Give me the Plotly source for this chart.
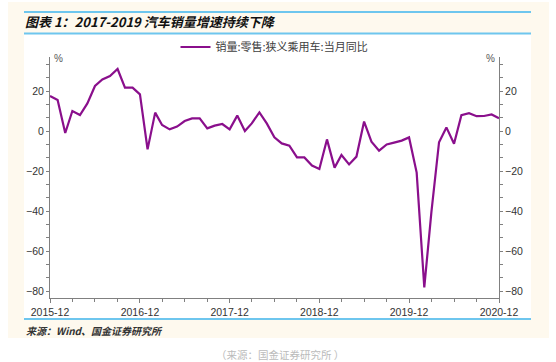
import plotly.graph_objects as go
import pandas as pd

# ---- data ----
months = pd.date_range("2015-12-01", "2020-12-01", freq="MS")
yoy = [17.5, 15.5, -1.0, 10.0, 8.0, 13.8, 22.5, 25.8, 27.5, 31.0, 21.7, 21.7,
       18.3, -9.2, 9.2, 3.0, 0.8, 2.2, 5.0, 6.3, 6.3, 1.3, 2.7, 3.5,
       0.8, 7.7, 0.0, 3.8, 9.3, 3.8, -3.2, -6.2, -7.3, -13.2, -13.2, -17.3,
       -19.0, -4.2, -18.3, -12.0, -16.7, -12.8, 4.7, -5.3, -9.8, -6.7, -5.8, -4.8,
       -3.2, -20.8, -78.2, -40.4, -5.6, 1.8, -6.4, 7.9, 8.9, 7.4, 7.5, 8.3, 6.4]
series_name = "销量:零售:狭义乘用车:当月同比"
title_text = "图表 1：2017-2019 汽车销量增速持续下降"
source_text = "来源：Wind、国金证券研究所"
caption_text = "（来源：国金证券研究所 ）"
y_ticks = [-80, -60, -40, -20, 0, 20]
x_ticks = pd.date_range("2015-12-01", "2020-12-01", freq="12MS")

W, H = 556, 362
L, R, T, B = 50, 499, 57, 298


def px(x):
    return (x - L) / (R - L)


def py(y):
    return (B - y) / (B - T)


fig = go.Figure()
fig.add_trace(go.Scatter(x=months, y=yoy, mode="lines", name=series_name,
                         line=dict(color="#8A0F8C", width=2.2)))
fig.add_trace(go.Scatter(x=months, y=yoy, mode="lines", yaxis="y2", showlegend=False,
                         line=dict(color="rgba(0,0,0,0)", width=0), hoverinfo="skip"))

yr = [-83.5, 37]
axis_common = dict(
    range=yr, tickvals=y_ticks, ticks="outside", ticklen=3, tickwidth=1,
    tickcolor="#808080", showline=True, linecolor="#808080", linewidth=1,
    showgrid=False, zeroline=False,
    tickfont=dict(family="Liberation Sans, Arial", size=10.5, color="#333333"),
    minor=dict(ticks="outside", ticklen=3, tickcolor="#808080", tick0=0, dtick=20 / 3, showgrid=False),
)

fig.update_layout(
    width=W, height=H,
    margin=dict(l=L, r=W - R, t=T, b=H - B),
    paper_bgcolor="white", plot_bgcolor="rgba(0,0,0,0)",
    showlegend=True,
    legend=dict(x=0.5, xanchor="center", y=py(47), yanchor="middle", orientation="h",
                bgcolor="rgba(0,0,0,0)", font=dict(family="Noto Sans CJK SC", size=11, color="#404040"),
                itemwidth=30),
    title=dict(text=title_text, xref="container", x=25 / W, xanchor="left",
               yref="container", y=1 - 22 / H, yanchor="middle",
               font=dict(family="Noto Sans CJK SC", size=13, color="#111111", weight="bold", style="italic")),
    xaxis=dict(
        type="date", range=[months[0], months[-1]], tickvals=list(x_ticks), tickformat="%Y-%m",
        ticks="outside", ticklen=4, tickcolor="#808080", showline=True, linecolor="#808080",
        linewidth=1, showgrid=False, zeroline=False,
        tickfont=dict(family="Liberation Sans, Arial", size=10.5, color="#333333"),
        minor=dict(ticks="outside", ticklen=3, tickcolor="#808080", tick0="2015-12-01", dtick="M3"),
    ),
    yaxis=dict(side="left", **axis_common),
    yaxis2=dict(side="right", overlaying="y", **axis_common),
)

shapes = [
    dict(type="rect", xref="paper", yref="paper", x0=px(8), x1=px(549), y0=py(2), y1=py(338),
         fillcolor="#FEF9EE", line=dict(width=0), layer="below"),
    dict(type="rect", xref="paper", yref="paper", x0=px(24), x1=px(531), y0=py(34), y1=py(319),
         fillcolor="white", line=dict(width=0), layer="below"),
]
for yy in (12, 33.5, 319):
    shapes.append(dict(type="line", xref="paper", yref="paper", x0=px(24), x1=px(531),
                       y0=py(yy), y1=py(yy), line=dict(color="#6EC6EE", width=2), layer="below"))
fig.update_layout(shapes=shapes)

annotations = [
    dict(text="%", x=px(52), y=py(58), xanchor="left", yanchor="middle", showarrow=False,
         xref="paper", yref="paper", font=dict(family="Liberation Sans, Arial", size=10, color="#555555")),
    dict(text="%", x=px(497), y=py(58), xanchor="right", yanchor="middle", showarrow=False,
         xref="paper", yref="paper", font=dict(family="Liberation Sans, Arial", size=10, color="#555555")),
    dict(text=source_text, x=px(24), y=py(330), xanchor="left", yanchor="middle", showarrow=False,
         xref="paper", yref="paper",
         font=dict(family="Noto Sans CJK SC", size=10, color="#333333", weight="bold", style="italic")),
    dict(text=caption_text, x=px(280), y=py(354), xanchor="center", yanchor="middle", showarrow=False,
         xref="paper", yref="paper", font=dict(family="Noto Sans CJK SC", size=10.5, color="#BBBBBB")),
]
fig.update_layout(annotations=annotations)

fig.write_html("out.html", config={"displayModeBar": False},
               post_script="document.body.style.margin='0';document.body.style.overflow='hidden';")
